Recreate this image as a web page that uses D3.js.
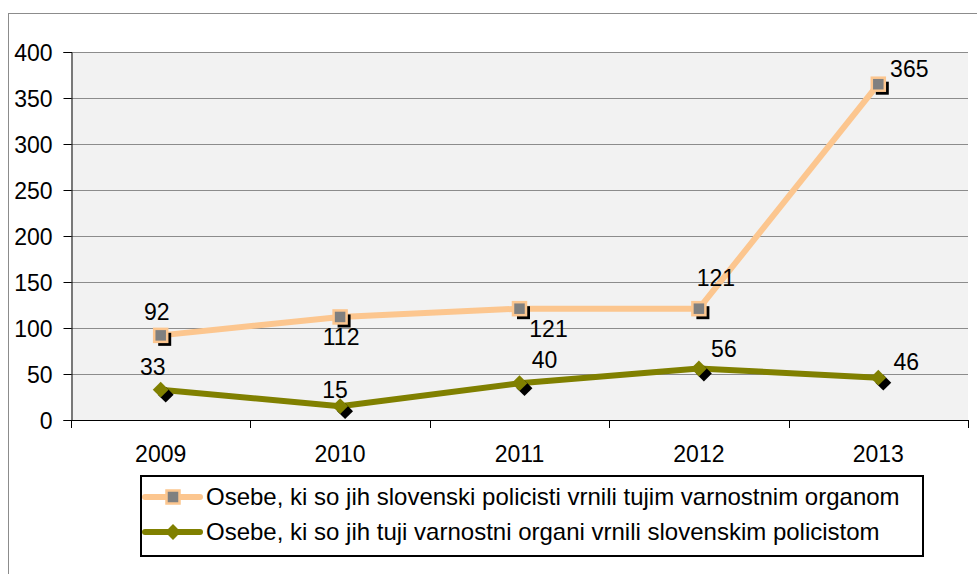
<!DOCTYPE html>
<html>
<head>
<meta charset="utf-8">
<script src="https://cdn.jsdelivr.net/npm/d3@7"></script>
<style>
  body { margin: 0; background: #fff; }
  svg { display: block; font-family: "Liberation Sans", Arial, sans-serif; }
</style>
</head>
<body>
<svg id="chart" width="977" height="574"></svg>
<script>
const years = ["2009", "2010", "2011", "2012", "2013"];
const returnedByUs = [92, 112, 121, 121, 365];
const returnedToUs = [33, 15, 40, 56, 46];
const yTicks = [0, 50, 100, 150, 200, 250, 300, 350, 400];
const seriesNames = [
  "Osebe, ki so jih slovenski policisti vrnili tujim varnostnim organom",
  "Osebe, ki so jih tuji varnostni organi vrnili slovenskim policistom",
];
// label placement per point: dx, dy of the label centre relative to the marker
const labelPosA = [[-4, -23], [1, 20], [29, 20], [17, -31], [31, -15]];
const labelPosB = [[-8, -23], [-5, -16], [25, -23], [25, -19], [28, -16]];

const fontSize = 23;
const svg = d3.select("#chart");
const plotLeft = 71, plotRight = 968, plotTop = 52, plotBottom = 420;

svg.append("rect")
  .attr("x", 8.5).attr("y", 13.5).attr("width", 975).attr("height", 570)
  .attr("fill", "#fff").attr("stroke", "#8c8c8c").attr("stroke-width", 1);

const x = d3.scaleBand().domain(years).range([plotLeft, plotRight]);
const y = d3.scaleLinear().domain([0, 400]).range([plotBottom, plotTop]);

svg.append("rect")
  .attr("x", plotLeft).attr("y", plotTop).attr("width", plotRight - plotLeft).attr("height", plotBottom - plotTop)
  .attr("fill", "#f2f2f2");

svg.append("g").selectAll("line").data(yTicks.filter((d) => d > 0)).join("line")
  .attr("x1", plotLeft).attr("x2", plotRight)
  .attr("y1", (d) => y(d) + 0.5).attr("y2", (d) => y(d) + 0.5)
  .attr("stroke", "#8c8c8c").attr("stroke-width", 1);

const yAxis = svg.append("g")
  .attr("transform", `translate(${plotLeft + 0.5},0)`)
  .call(d3.axisLeft(y).tickValues(yTicks).tickSize(8).tickPadding(11));
yAxis.select(".domain").attr("stroke", "#000");
yAxis.selectAll("line").attr("stroke", "#000");
yAxis.selectAll("text").attr("font-size", fontSize).attr("fill", "#000")
  .attr("font-family", "Liberation Sans, Arial, sans-serif")
  .attr("dy", null).attr("dominant-baseline", "auto")
  .attr("y", 8);

// x axis with ticks between categories
const xg = svg.append("g");
xg.append("line").attr("x1", plotLeft).attr("x2", plotRight)
  .attr("y1", plotBottom + 0.5).attr("y2", plotBottom + 0.5).attr("stroke", "#000");
const bounds = years.map((d) => x(d)).concat([x(years[years.length - 1]) + x.bandwidth()]);
xg.selectAll("line.tick").data(bounds).join("line").attr("class", "tick")
  .attr("x1", (d) => Math.round(d) + 0.5).attr("x2", (d) => Math.round(d) + 0.5)
  .attr("y1", plotBottom).attr("y2", plotBottom + 8).attr("stroke", "#000");
xg.selectAll("text").data(years).join("text")
  .attr("x", (d) => x(d) + x.bandwidth() / 2).attr("y", plotBottom + 42)
  .attr("text-anchor", "middle").attr("font-size", fontSize).text((d) => d);

const cx = (i) => x(years[i]) + x.bandwidth() / 2;
const line = d3.line().x((d, i) => cx(i)).y((d) => y(d));

const peach = "#fcc68f";
const olive = "#808000";
const dia = d3.symbol().type(d3.symbolDiamond2).size(160);

function drawSeries(values, color, shape, labelPos) {
  const g = svg.append("g");
  g.append("path").datum(values).attr("d", line)
    .attr("fill", "none").attr("stroke", color).attr("stroke-width", 6)
    .attr("stroke-linejoin", "round");
  values.forEach((v, i) => {
    const px = cx(i), py = y(v);
    if (shape === "square") {
      g.append("rect").attr("x", px - 2.5).attr("y", py - 2.5)
        .attr("width", 13).attr("height", 13).attr("fill", "#000");
      g.append("rect").attr("x", px - 6.5).attr("y", py - 6.5)
        .attr("width", 13).attr("height", 13)
        .attr("fill", "#808080").attr("stroke", color).attr("stroke-width", 2.5);
    } else {
      g.append("path").attr("d", dia()).attr("transform", `translate(${px + 5},${py + 5})`)
        .attr("fill", "#000");
      g.append("path").attr("d", dia()).attr("transform", `translate(${px},${py})`)
        .attr("fill", color);
    }
    g.append("text").attr("x", px + labelPos[i][0]).attr("y", py + labelPos[i][1] + 8)
      .attr("text-anchor", "middle")
      .attr("font-size", fontSize).text(v);
  });
}

drawSeries(returnedByUs, peach, "square", labelPosA);
drawSeries(returnedToUs, olive, "diamond", labelPosB);

// legend
const lg = svg.append("g");
lg.append("rect").attr("x", 141).attr("y", 476).attr("width", 782).attr("height", 80)
  .attr("fill", "#fff").attr("stroke", "#000").attr("stroke-width", 2);
[0, 1].forEach((k) => {
  const ly = 497 + k * 35;
  const col = k === 0 ? peach : olive;
  lg.append("line").attr("x1", 145).attr("x2", 200).attr("y1", ly).attr("y2", ly)
    .attr("stroke", col).attr("stroke-width", 6).attr("stroke-linecap", "round");
  if (k === 0) {
    lg.append("rect").attr("x", 166.5).attr("y", ly - 6.5).attr("width", 13).attr("height", 13)
      .attr("fill", "#808080").attr("stroke", col).attr("stroke-width", 2.5);
  } else {
    lg.append("path").attr("d", dia())
      .attr("transform", `translate(173,${ly})`).attr("fill", col);
  }
  lg.append("text").attr("x", 206).attr("y", ly + 8)
    .attr("font-size", 24).text(seriesNames[k]);
});
</script>
</body>
</html>
